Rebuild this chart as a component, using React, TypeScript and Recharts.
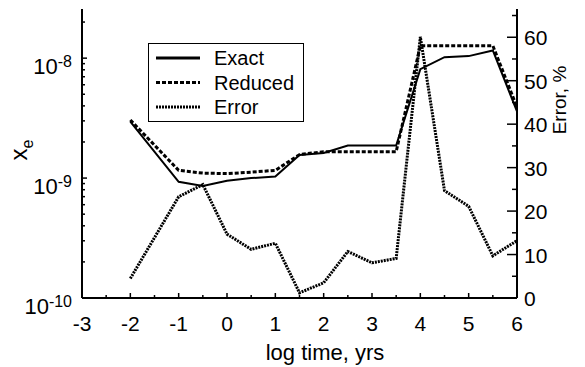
import React from "react";
import { LineChart, Line, XAxis, YAxis, Legend } from "recharts";

// log10 of time in years
const times = [-2, -1, -0.5, 0, 0.5, 1, 1.5, 2, 2.5, 3, 3.5, 4, 4.5, 5, 5.5, 6];
const exact = [
  2.95e-9, 9.3e-10, 8.6e-10, 9.5e-10, 1.0e-9, 1.03e-9, 1.56e-9, 1.62e-9,
  1.87e-9, 1.87e-9, 1.87e-9, 8.1e-9, 1.02e-8, 1.04e-8, 1.16e-8, 3.6e-9,
];
const reduced = [
  3.05e-9, 1.16e-9, 1.1e-9, 1.09e-9, 1.12e-9, 1.16e-9, 1.57e-9, 1.66e-9,
  1.66e-9, 1.66e-9, 1.66e-9, 1.27e-8, 1.27e-8, 1.27e-8, 1.27e-8, 3.9e-9,
];
const errorPct = [
  4.5, 23.3, 26.1, 14.7, 11.2, 12.6, 1.2, 3.5, 10.7, 8.1, 9.1, 60.1, 24.7,
  21.1, 9.7, 13.2,
];

const xTicks = [-3, -2.5, -2, -1.5, -1, -0.5, 0, 0.5, 1, 1.5, 2, 2.5, 3, 3.5, 4, 4.5, 5, 5.5, 6];
const xeTicks = [
  1e-10, 2e-10, 3e-10, 4e-10, 5e-10, 6e-10, 7e-10, 8e-10, 9e-10,
  1e-9, 2e-9, 3e-9, 4e-9, 5e-9, 6e-9, 7e-9, 8e-9, 9e-9,
  1e-8, 2e-8,
];
const errTicks = [0, 5, 10, 15, 20, 25, 30, 35, 40, 45, 50, 55, 60, 65];

const data = times.map((t, i) => ({
  t,
  exact: exact[i],
  reduced: reduced[i],
  error: errorPct[i],
}));

const FONT = "Arial, 'Liberation Sans', sans-serif";
const DASH = "4 2";
const DOT = "2 1";

const isWhole = (v: number) => Math.abs(v - Math.round(v)) < 1e-6;

const BottomTick = (props: any) => {
  const { x, y, payload } = props;
  const v = payload.value as number;
  const major = isWhole(v);
  return (
    <g>
      <line x1={x} x2={x} y1={y} y2={y - (major ? 5 : 3)} stroke="#000" strokeWidth={1.5} />
      {major && (
        <text x={x} y={y + 33} textAnchor="middle" fontSize={21} fontFamily={FONT} fill="#000">
          {v}
        </text>
      )}
    </g>
  );
};

const TopTick = (props: any) => {
  const { x, y, payload } = props;
  const major = isWhole(payload.value);
  return <line x1={x} x2={x} y1={y} y2={y + (major ? 5 : 3)} stroke="#000" strokeWidth={1.5} />;
};

const LeftTick = (props: any) => {
  const { x, y, payload } = props;
  const lg = Math.log10(payload.value);
  const major = isWhole(lg);
  return (
    <g>
      <line x1={x} x2={x + (major ? 5 : 3)} y1={y} y2={y} stroke="#000" strokeWidth={1.5} />
      {major && (
        <text x={x - 10} y={y + 16} textAnchor="end" fontSize={22} fontFamily={FONT} fill="#000">
          10
          <tspan dy={-7} fontSize={16}>
            {Math.round(lg)}
          </tspan>
        </text>
      )}
    </g>
  );
};

const RightTick = (props: any) => {
  const { x, y, payload } = props;
  const v = payload.value as number;
  const major = v % 10 === 0;
  return (
    <g>
      <line x1={x} x2={x - (major ? 10 : 5)} y1={y} y2={y} stroke="#000" strokeWidth={1.5} />
      {major && (
        <text x={x + 7} y={y + 8} textAnchor="start" fontSize={21} fontFamily={FONT} fill="#000">
          {v}
        </text>
      )}
    </g>
  );
};

const XeLabel = () => (
  <text x={27} y={150} transform="rotate(-90 27 150)" textAnchor="middle" fontSize={24} fontFamily={FONT} fill="#000">
    x
    <tspan dy={6} fontSize={16}>
      e
    </tspan>
  </text>
);

const ErrorLabel = () => (
  <text x={566} y={100} transform="rotate(-90 566 100)" textAnchor="middle" fontSize={19} fontFamily={FONT} fill="#000">
    Error, %
  </text>
);

const TimeLabel = () => (
  <text x={325} y={360} textAnchor="middle" fontSize={22} fontFamily={FONT} fill="#000">
    log time, yrs
  </text>
);

const legendRows = [
  { name: "Exact", dash: undefined as string | undefined, width: 3 },
  { name: "Reduced", dash: DASH, width: 3 },
  { name: "Error", dash: DOT, width: 3 },
];

const LegendBox = () => (
  <svg width={156} height={80} style={{ display: "block" }}>
    <rect x={0.5} y={0.5} width={155} height={78} fill="#fff" stroke="#000" strokeWidth={1} />
    {legendRows.map((r, i) => (
      <g key={r.name}>
        <line x1={8} x2={52} y1={15 + i * 24.5} y2={15 + i * 24.5} stroke="#000" strokeWidth={r.width} strokeDasharray={r.dash} />
        <text x={66} y={22 + i * 24.5} fontSize={20} fontFamily={FONT} fill="#000">
          {r.name}
        </text>
      </g>
    ))}
  </svg>
);

export default function App() {
  return (
    <div style={{ position: "absolute", left: 0, top: 0, background: "#fff" }}>
      <LineChart width={585} height={367} data={data} margin={{ top: 9, right: 0, bottom: 0, left: 0 }}>
        <XAxis
          xAxisId="bottom"
          dataKey="t"
          type="number"
          domain={[-3, 6]}
          ticks={xTicks}
          interval={0}
          height={69}
          tickSize={0}
          tickMargin={0}
          tick={(p: any) => <BottomTick {...p} />}
          axisLine={{ stroke: "#000", strokeWidth: 2 }}
          label={() => <TimeLabel />}
        />
        <XAxis
          xAxisId="top"
          orientation="top"
          dataKey="t"
          type="number"
          domain={[-3, 6]}
          ticks={xTicks}
          interval={0}
          height={0}
          tickSize={0}
          tickMargin={0}
          tick={(p: any) => <TopTick {...p} />}
          axisLine={{ stroke: "#000", strokeWidth: 2 }}
        />
        <YAxis
          yAxisId="left"
          type="number"
          scale="log"
          domain={[1e-10, 2.57e-8]}
          allowDataOverflow
          ticks={xeTicks}
          interval={0}
          width={82}
          tickSize={0}
          tickMargin={0}
          tick={(p: any) => <LeftTick {...p} />}
          axisLine={{ stroke: "#000", strokeWidth: 2 }}
          label={() => <XeLabel />}
        />
        <YAxis
          yAxisId="right"
          orientation="right"
          type="number"
          domain={[0, 66.5]}
          allowDataOverflow
          ticks={errTicks}
          interval={0}
          width={68}
          tickSize={0}
          tickMargin={0}
          tick={(p: any) => <RightTick {...p} />}
          axisLine={{ stroke: "#000", strokeWidth: 2 }}
          label={() => <ErrorLabel />}
        />
        <Legend
          layout="horizontal"
          verticalAlign="middle"
          align="center"
          wrapperStyle={{ left: 148, top: 43, width: 156, height: 80 }}
          content={() => <LegendBox />}
        />
        <Line
          xAxisId="bottom"
          yAxisId="left"
          dataKey="exact"
          stroke="#000"
          strokeWidth={2}
          dot={false}
          isAnimationActive={false}
        />
        <Line
          xAxisId="bottom"
          yAxisId="left"
          dataKey="reduced"
          stroke="#000"
          strokeWidth={3}
          strokeDasharray={DASH}
          dot={false}
          isAnimationActive={false}
        />
        <Line
          xAxisId="bottom"
          yAxisId="right"
          dataKey="error"
          stroke="#000"
          strokeWidth={3}
          strokeDasharray={DOT}
          dot={false}
          isAnimationActive={false}
        />
      </LineChart>
    </div>
  );
}
